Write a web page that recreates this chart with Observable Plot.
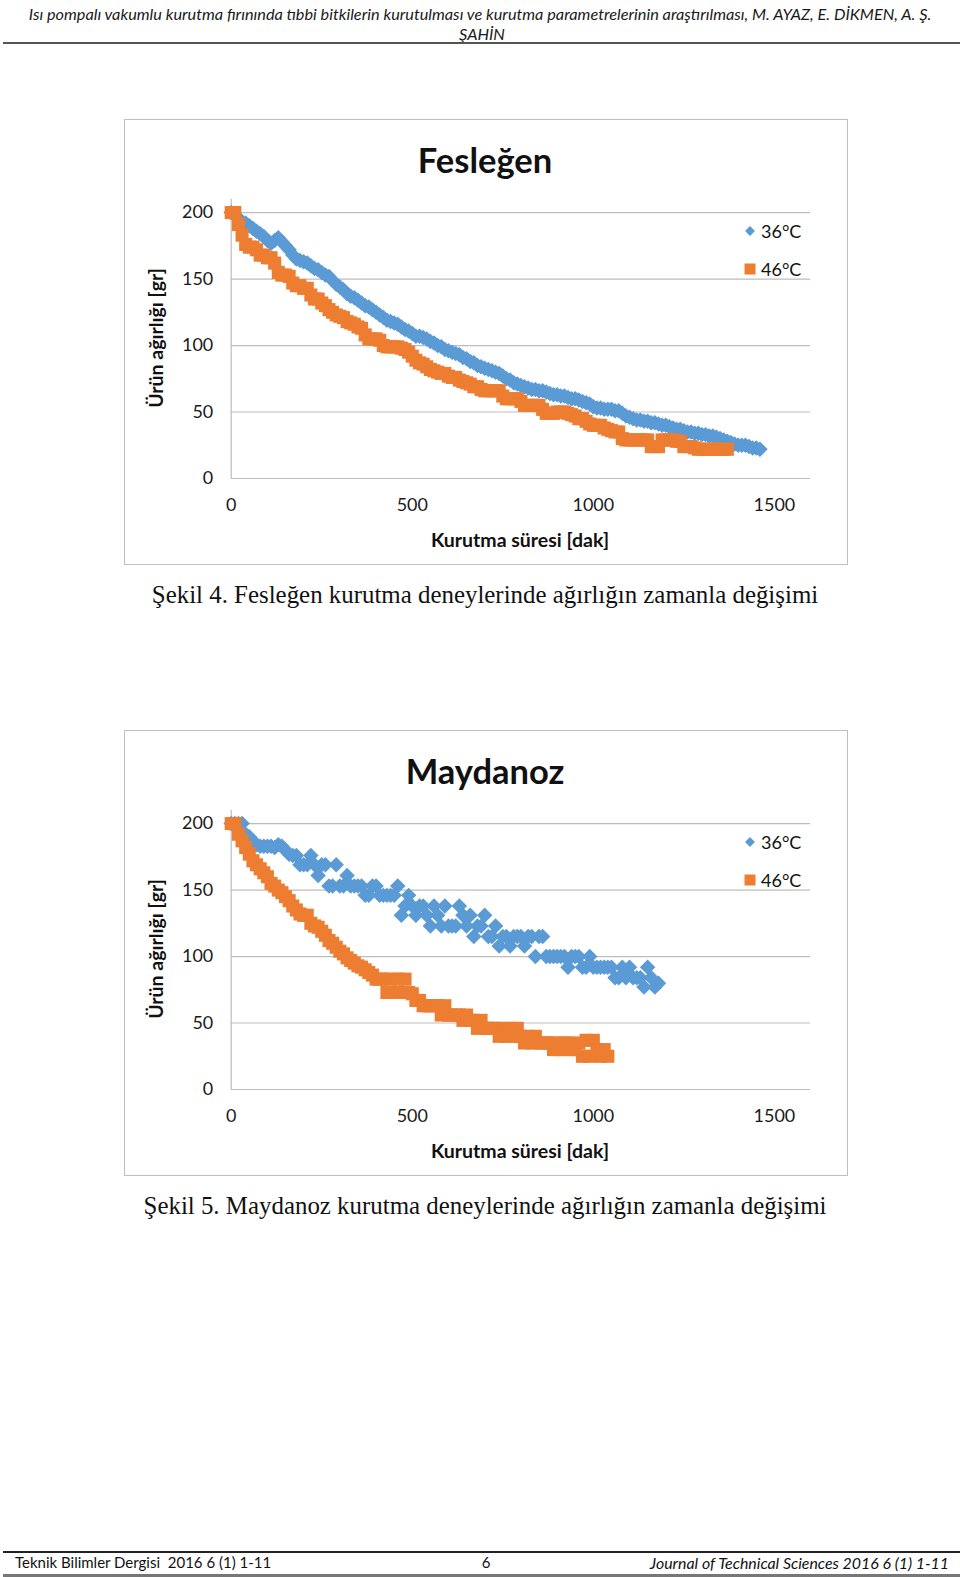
<!DOCTYPE html>
<html><head><meta charset="utf-8">
<script src="https://cdn.jsdelivr.net/npm/d3@7"></script>
<script src="https://cdn.jsdelivr.net/npm/@observablehq/plot@0.6"></script>
<style>
body{margin:0;background:#fff;width:960px;height:1577px;position:relative;overflow:hidden;font-family:Lato,sans-serif;color:#111;}
.c{position:absolute;transform:translate(-50%,-50%);white-space:nowrap;}
.hdr{font-style:italic;font-size:16.3px;color:#1a1a1a;}
.box{position:absolute;left:124px;width:724px;height:446px;border:1px solid #bfbfbf;box-sizing:border-box;}
.box svg{position:absolute;left:-1px;top:-1px;}
.title{font-weight:bold;font-size:34.5px;}
.axt{font-weight:bold;font-size:19.5px;}
.leg{position:absolute;font-size:18px;white-space:nowrap;transform:translateY(-50%);}
.dia{position:absolute;width:7px;height:7px;background:#5b9bd5;transform:translate(-50%,-50%) rotate(45deg);}
.sq{position:absolute;width:11px;height:11px;background:#ed7d31;transform:translate(-50%,-50%);}
.cap{font-family:"Liberation Serif",serif;font-size:24.9px;}
.line{position:absolute;left:3px;right:0;}
</style></head>
<body>
<div id="root"></div>
<script>
// ---- data ----
const times = [0,10,20,30,40,50,60,70,80,90,100,110,120,130,140,150,160,170,180,190,200,210,220,230,240,250,260,270,280,290,300,310,320,330,340,350,360,370,380,390,400,410,420,430,440,450,460,470,480,490,500,510,520,530,540,550,560,570,580,590,600,610,620,630,640,650,660,670,680,690,700,710,720,730,740,750,760,770,780,790,800,810,820,830,840,850,860,870,880,890,900,910,920,930,940,950,960,970,980,990,1000,1010,1020,1030,1040,1050,1060,1070,1080,1090,1100,1110,1120,1130,1140,1150,1160,1170,1180,1190,1200,1210,1220,1230,1240,1250,1260,1270,1280,1290,1300,1310,1320,1330,1340,1350,1360,1370,1380,1390,1400,1410,1420,1430,1440,1450,1460];

const seriesNames = ["36°C", "46°C"];
const chartTitles = ["Fesleğen", "Maydanoz"];
const captions = ["Şekil 4. Fesleğen kurutma deneylerinde ağırlığın zamanla değişimi", "Şekil 5. Maydanoz kurutma deneylerinde ağırlığın zamanla değişimi"];
const xTicks = [0, 500, 1000, 1500];
const yTicks = [0, 50, 100, 150, 200];
const xLabel = "Kurutma süresi [dak]";
const yLabel = "Ürün ağırlığı [gr]";

const fes36 = [200,198,196,193,192,190,188,186,184,182,179,177,179,181,178,175,172,168,165,164,163,162,160,158,157,155,153,152,149,146,144,142,139,137,136,134,132,130,129,127,125,123,121,119,118,117,116,114,112,111,109,107,107,106,105,103,102,100,99,97,96,95,94,93,91,90,88,87,85,84,83,82,81,80,79,77,75,74,72,71,70,69,68,67,67,66,66,65,64,63,63,62,62,61,60,60,59,58,57,56,54,53,53,52,52,52,51,51,49,47,46,45,44,44,43,43,42,42,41,40,40,39,38,37,37,36,35,35,34,34,33,33,32,32,31,30,29,28,27,26,25,25,25,24,23,23,22];
const fes46 = [200,200,191,183,176,174,174,172,168,168,166,166,162,155,153,153,152,147,145,145,143,143,138,135,135,132,130,127,125,123,122,121,118,117,116,114,113,108,105,105,105,104,100,99,99,99,99,98,97,95,92,89,87,86,84,82,81,80,79,79,77,76,76,74,73,72,71,69,69,67,66,66,66,66,66,62,60,60,60,60,58,55,55,55,55,55,52,49,49,49,50,50,50,49,48,47,45,45,43,41,40,40,40,38,37,36,35,35,30,29,29,29,29,29,29,29,24,24,24,29,29,29,29,28,28,24,24,24,23,22,22,22,22,22,22,22,22,22];
const may36 = [200,200,200,200,192,190,187,184,183,183,183,183,182,184,183,180,177,176,176,169,169,169,176,169,161,169,169,153,153,169,153,153,161,153,153,153,153,146,146,153,153,146,146,146,146,146,153,131,138,146,138,131,138,138,131,123,138,131,123,138,123,123,123,138,131,123,131,115,123,123,131,115,115,123,108,115,115,108,115,115,115,108,115,115,100,115,115,100,100,100,100,100,100,92,100,100,100,92,92,100,92,92,92,92,92,92,84,84,92,84,92,84,84,84,77,92,84,77,80];
const may46 = [200,200,192,187,182,177,172,169,166,163,160,155,153,150,148,145,142,138,135,132,131,131,125,123,122,119,116,112,110,107,104,102,99,97,95,93,92,90,88,86,83,83,83,73,83,73,83,73,83,73,72,67,67,63,63,63,63,63,56,63,56,56,56,56,52,56,52,52,46,52,46,46,46,46,40,46,40,46,40,46,40,35,40,35,40,35,35,35,35,30,35,30,35,35,30,30,35,25,37,25,37,30,25,30,25];

const charts = [
  {top: 119, s36: fes36, s46: fes46},
  {top: 730, s36: may36, s46: may46}
];

const root = document.getElementById("root");
function add(html){ root.insertAdjacentHTML("beforeend", html); }

// header & footer
add(`<div class="c hdr" style="left:480px;top:13px">Isı pompalı vakumlu kurutma fırınında tıbbi bitkilerin kurutulması ve kurutma parametrelerinin araştırılması, M. AYAZ, E. DİKMEN, A. Ş.</div>`);
add(`<div class="c hdr" style="left:482px;top:33px">ŞAHİN</div>`);
add(`<div class="line" style="top:42px;height:2px;background:#555"></div>`);
add(`<div class="line" style="top:1551px;height:1.5px;background:#222"></div>`);
add(`<div class="line" style="top:1574px;height:3px;background:#777"></div>`);
add(`<div style="position:absolute;left:15px;top:1562px;transform:translateY(-50%);font-size:15px;white-space:pre">Teknik Bilimler Dergisi  2016 6 (1) 1-11</div>`);
add(`<div class="c" style="left:486px;top:1562px;font-size:15px">6</div>`);
add(`<div style="position:absolute;right:11px;top:1562px;transform:translateY(-50%);font-size:15.9px;font-style:italic;white-space:nowrap">Journal of Technical Sciences 2016 6 (1) 1-11</div>`);

charts.forEach((ch, ci) => {
  const box = document.createElement("div");
  box.className = "box";
  box.style.top = ch.top + "px";
  root.appendChild(box);
  const d36 = ch.s36.map((w, i) => ({t: times[i], w, s: seriesNames[0]}));
  const d46 = ch.s46.map((w, i) => ({t: times[i], w, s: seriesNames[1]}));
  const svg = Plot.plot({
    width: 724, height: 446,
    marginLeft: 107, marginRight: 36, marginTop: 80, marginBottom: 86,
    style: {fontFamily: "Lato, sans-serif", fontSize: "18px", color: "#1a1a1a", background: "transparent"},
    x: {domain: [0, 1600]},
    y: {domain: [0, 210]},
    marks: [
      Plot.ruleY(yTicks, {stroke: "#bdbdbd", strokeWidth: 1.2}),
      Plot.ruleX([0], {stroke: "#bdbdbd", strokeWidth: 1.2}),
      Plot.axisY({ticks: yTicks, tickSize: 0, tickPadding: 18, label: null, tickFormat: d3.format("d")}),
      Plot.axisX({ticks: xTicks, tickSize: 0, tickPadding: 20, label: null, tickFormat: d3.format("d")}),
      Plot.dot(d36, {x: "t", y: "w", symbol: "diamond2", r: 7, fill: "#5b9bd5", stroke: "none"}),
      Plot.dot(d46, {x: "t", y: "w", symbol: "square", r: 7.4, fill: "#ed7d31", stroke: "none"})
    ]
  });
  box.appendChild(svg);
  const bh = (html) => box.insertAdjacentHTML("beforeend", html);
  bh(`<div class="c title" style="left:360px;top:39px">${chartTitles[ci]}</div>`);
  bh(`<div class="c axt" style="left:395px;top:419px">${xLabel}</div>`);
  bh(`<div class="c axt" style="left:30px;top:218px;transform:translate(-50%,-50%) rotate(-90deg)">${yLabel}</div>`);
  bh(`<div class="dia" style="left:625px;top:111px"></div><div class="leg" style="left:636px;top:111px">${seriesNames[0]}</div>`);
  bh(`<div class="sq" style="left:625px;top:149px"></div><div class="leg" style="left:636px;top:149px">${seriesNames[1]}</div>`);
  add(`<div class="c cap" style="left:485px;top:${ch.top + 476}px">${captions[ci]}</div>`);
});
</script>
</body></html>
